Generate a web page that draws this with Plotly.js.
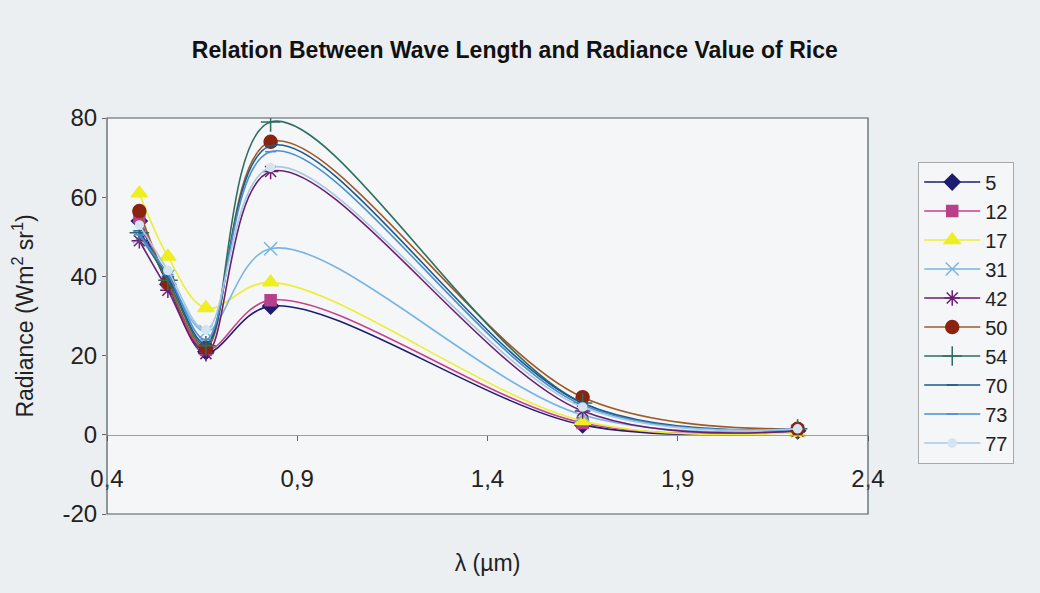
<!DOCTYPE html>
<html>
<head>
<meta charset="utf-8">
<script src="https://cdn.plot.ly/plotly-3.0.1.min.js"></script>
<style>html,body{margin:0;padding:0;background:#eceff2;}#chart{width:1040px;height:593px;}</style>
</head>
<body>
<div id="chart"></div>
<script>
// Wavelengths (µm) of the band centres
const wavelength = [0.485, 0.56, 0.66, 0.83, 1.65, 2.215];
// Series names (days)
const seriesNames = ["5", "12", "17", "31", "42", "50", "54", "70", "73", "77"];
// Radiance values per series
const r5  = [54,   38,   21,   32.5, 2.5, 1];
const r12 = [55,   38.5, 21.5, 34,   3,   1];
const r17 = [61,   45,   32,   38.5, 3.5, 0.5];
const r31 = [50,   40,   26,   47,   5,   1];
const r42 = [49,   36.5, 20.5, 66.5, 6,   1];
const r50 = [56.5, 38.5, 22,   74,   9.5, 1.5];
const r54 = [51,   39,   22.5, 79,   8,   1.5];
const r70 = [51.5, 40,   23,   73,   8,   1.5];
const r73 = [50.5, 40.5, 24,   71.5, 7.5, 1.5];
const r77 = [53,   41.5, 26.5, 67.5, 7,   1.5];
const seriesValues = [r5, r12, r17, r31, r42, r50, r54, r70, r73, r77];

const xTicks = [0.4, 0.9, 1.4, 1.9, 2.4];
const yTicks = [-20, 0, 20, 40, 60, 80];
const yTickText = ["-20", "0", "20", "40", "60", "80"];

const styles = [
  {color:'#1c1c70', symbol:'diamond', size:12, mcolor:'#1c1c70'},
  {color:'#c8408a', symbol:'square', size:11, mcolor:'#b8408a'},
  {color:'#eeee30', symbol:'triangle-up', size:14, mcolor:'#eeee20'},
  {color:'#78b4e4', symbol:'x-thin', size:13, mcolor:'#78b4e4'},
  {color:'#6a2070', symbol:'asterisk', size:13, mcolor:'#6a2070'},
  {color:'#a05a28', symbol:'circle', size:13, mcolor:'#8a2410'},
  {color:'#2e6e62', symbol:'cross-thin', size:14, mcolor:'#2e6e62'},
  {color:'#1d5a8c', symbol:'line-ew', size:8, mcolor:'#1d5a8c'},
  {color:'#4a8fd4', symbol:'line-ew', size:8, mcolor:'#4a8fd4'},
  {color:'#a9c7e0', symbol:'circle', size:8, mcolor:'#d4e4f0'}
];

const traces = seriesNames.map((name, i) => ({
  type: 'scatter',
  mode: 'lines+markers',
  name: name,
  x: wavelength,
  y: seriesValues[i],
  line: {shape: 'spline', smoothing: 1, color: styles[i].color, width: 1.6},
  marker: {symbol: styles[i].symbol, size: styles[i].size, color: styles[i].mcolor,
           line: {color: styles[i].mcolor, width: 1.5}}
}));

const layout = {
  width: 1040, height: 593,
  paper_bgcolor: '#eceff2',
  plot_bgcolor: '#f4f6f8',
  separators: ', ',
  margin: {l: 107, r: 172, t: 118, b: 79},
  font: {family: 'Liberation Sans, Arial, sans-serif', color: '#222', size: 20},
  title: {text: 'Relation Between Wave Length and Radiance Value of Rice',
          font: {size: 23, family: 'Liberation Sans, Arial, sans-serif', weight: 'bold', color: '#111'},
          x: 0.495, xanchor: 'center', y: 0.915, yanchor: 'middle'},
  xaxis: {
    range: [0.4, 2.4], tickvals: xTicks, tickformat: '.1f',
    anchor: 'free', position: 0.2,
    showline: true, linecolor: '#b888c0', linewidth: 1,
    ticks: 'outside', ticklen: 5, tickcolor: '#666',
    ticklabelstandoff: 17,
    showgrid: false, zeroline: false,
    tickfont: {size: 24, color: '#222'},
    title: {text: 'λ (µm)', font: {size: 23, color: '#222'}, standoff: 64}
  },
  yaxis: {
    range: [-20, 80], tickvals: yTicks, ticktext: yTickText,
    showline: false, ticks: 'outside', ticklen: 4, tickcolor: '#666',
    showgrid: false, zeroline: false,
    tickfont: {size: 24, color: '#222'},
    title: {text: 'Radiance (Wm<sup>2</sup> sr<sup>1</sup>)', font: {size: 23, color: '#222'}, standoff: 22}
  },
  shapes: [
    {type: 'rect', xref: 'paper', yref: 'paper', x0: 0, x1: 1, y0: 0, y1: 1,
     line: {color: '#4a5a5e', width: 1.2}, fillcolor: 'rgba(0,0,0,0)', layer: 'above'}
  ],
  legend: {
    x: 1.066, y: 0.89, xanchor: 'left', yanchor: 'top',
    bgcolor: '#f4f6f8', bordercolor: '#a8a8a8', borderwidth: 1,
    font: {size: 20, color: '#222'},
    itemwidth: 56,
    tracegroupgap: 0
  },
  showlegend: true
};

Plotly.newPlot('chart', traces, layout, {displayModeBar: false, staticPlot: true});
</script>
</body>
</html>
